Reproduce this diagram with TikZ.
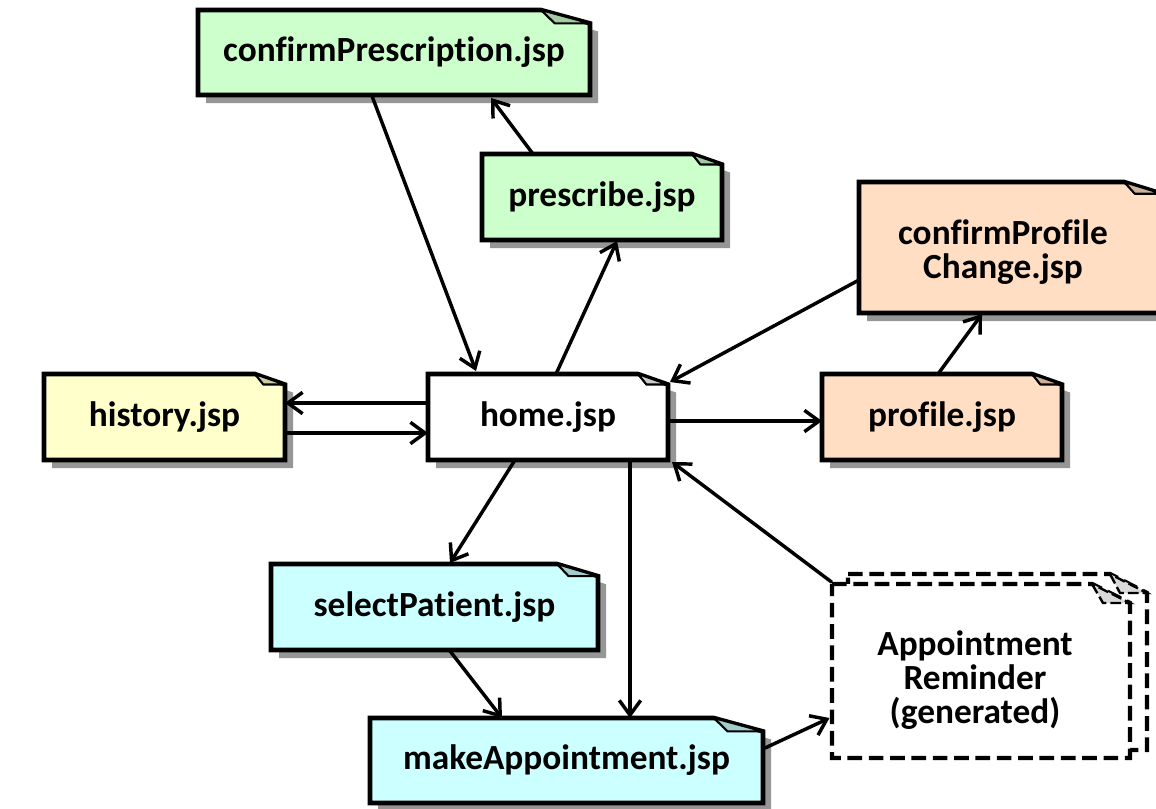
\documentclass[tikz,border=0pt]{standalone}
\usepackage{fontspec}
\setmainfont{Carlito}[Ligatures=CommonOff]
\usetikzlibrary{arrows.meta,calc}
\definecolor{ngreen}{RGB}{204,255,204}
\definecolor{nyellow}{RGB}{255,255,204}
\definecolor{npeach}{RGB}{255,222,196}
\definecolor{ncyan}{RGB}{204,255,255}
\definecolor{nshadow}{RGB}{150,150,150}
\tikzset{
  noteline/.style={line width=3.4pt, line join=miter, draw=black},
  flapline/.style={line width=1.6pt, line join=round, draw=black},
  notetext/.style={inner sep=0pt, outer sep=0pt, align=center, font=\fontsize{26.5}{25.5}\selectfont\bfseries},
  conn/.style={line width=2.6pt, -{Straight Barb[length=11pt,width=16pt,line width=2.6pt]}, line cap=round},
  dashline/.style={line width=3.2pt, dash pattern=on 11pt off 5pt, line join=miter}
}
\newcommand{\jspnote}[7]{%
  \pgfmathsetmacro\nfw{0.125*(#4-#2)}%
  \pgfmathsetmacro\nfh{6+0.15*\nfw}%
  \pgfmathsetmacro\nw{(#4-#2)*0.75}%
  \pgfmathsetmacro\nh{(#5-#3)*0.75}%
  \fill[nshadow] ({#2+8},{#3+8}) -- ({#4+8-\nfw},{#3+8}) -- ({#4+8},{#3+8+\nfh}) -- ({#4+8},{#5+8}) -- ({#2+8},{#5+8}) -- cycle;
  \filldraw[noteline, fill=#6] (#2,#3) -- ({#4-\nfw},#3) -- (#4,{#3+\nfh}) -- (#4,#5) -- (#2,#5) -- cycle;
  \filldraw[flapline, fill=#6!80!black] ({#4-\nfw},#3) -- ({#4-0.72*\nfw},{#3+\nfh}) -- (#4,{#3+\nfh}) -- cycle;
  \node[notetext, minimum width=\nw pt, minimum height=\nh pt] (#1) at ({(#2+#4)/2},{(#3+#5)/2}) {#7};
}
\begin{document}
\begin{tikzpicture}[x=0.75pt,y=-0.75pt]
\clip (0,0) rectangle (1156,808);
\fill[white] (0,0) rectangle (1156,808);

\jspnote{cpres}{198}{10}{590}{95}{ngreen}{confirmPrescription.jsp}
\jspnote{presc}{482}{154}{722}{240}{ngreen}{prescribe.jsp}
\jspnote{cprof}{859}{182}{1162}{313}{npeach}{}
\node[notetext] (cproftext) at (1003,252) {confirmProfile\\Change.jsp};
\jspnote{hist}{44}{374}{285}{460}{nyellow}{history.jsp}
\jspnote{home}{428}{374}{668}{460}{white}{home.jsp}
\jspnote{prof}{822}{374}{1062}{460}{npeach}{profile.jsp}
\jspnote{selp}{271}{564}{598}{650}{ncyan}{selectPatient.jsp}
\jspnote{mkap}{370}{718}{763}{803}{ncyan}{makeAppointment.jsp}

% Appointment reminder (dashed)
\filldraw[dashline, fill=white] (848,574) -- (1110,574) -- (1147,593) -- (1147,750) -- (848,750) -- cycle;
\filldraw[line width=1.8pt, dash pattern=on 8pt off 3pt, fill=black!15] (1110,574) -- (1120,593) -- (1147,593) -- cycle;
\filldraw[dashline, fill=white] (832,584) -- (1092,584) -- (1130,603) -- (1130,758) -- (832,758) -- cycle;
\filldraw[line width=1.8pt, dash pattern=on 8pt off 3pt, fill=black!15] (1092,584) -- (1103,603) -- (1130,603) -- cycle;
\node[notetext, minimum width=224.25pt, minimum height=130.5pt] (remd) at (981,671) {};
\node[notetext] (remdtext) at (975,680) {Appointment\\Reminder\\(generated)};

% connectors
\draw[conn] ($(cpres.south west)+(174,1)$) -- ($(home.north west)+(48,-3)$);
\draw[conn] ($(presc.north west)+(51,0)$) -- ($(cpres.south west)+(293,3)$);
\draw[conn] ($(home.north west)+(128,0)$) -- ($(presc.south west)+(135,1)$);
\draw[conn] ($(cprof.south west)+(0,-33)$) -- ($(home.north east)+(2,8)$);
\draw[conn] ($(prof.north west)+(116,0)$) -- ($(cprof.south west)+(123,1)$);
\draw[conn] ($(home.north west)+(0,29)$) -- ($(hist.north east)+(0,29)$);
\draw[conn] ($(hist.north east)+(0,59)$) -- ($(home.north west)+(0,59)$);
\draw[conn] ($(home.north east)+(0,47)$) -- ($(prof.north west)+(0,47)$);
\draw[conn] ($(home.south west)+(87,0)$) -- ($(selp.north west)+(179,-1)$);
\draw[conn] ($(home.south west)+(202,0)$) -- ($(mkap.north west)+(260,0)$);
\draw[conn] ($(selp.south west)+(179,1)$) -- ($(mkap.north west)+(132,0)$);
\draw[conn] ($(remd.north west)+(0,-2)$) -- ($(home.south east)+(4,2)$);
\draw[conn] ($(mkap.north east)+(2,30)$) -- ($(remd.south west)+(-2,-40)$);
\end{tikzpicture}
\end{document}
